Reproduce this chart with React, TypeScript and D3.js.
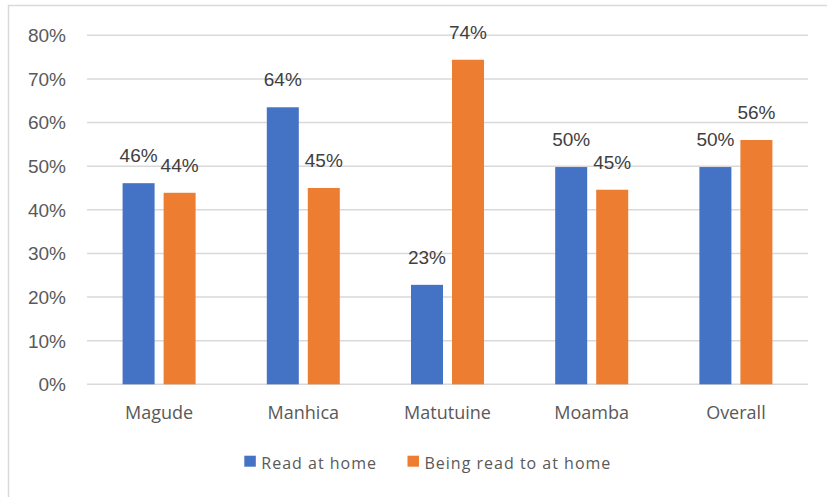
import React from "react";
import * as d3 from "d3";

const categories = ["Magude", "Manhica", "Matutuine", "Moamba", "Overall"];
const seriesNames = ["Read at home", "Being read to at home"];
const readAtHome = [0.461, 0.635, 0.228, 0.498, 0.498];
const beingReadTo = [0.439, 0.45, 0.744, 0.446, 0.56];
const yTicks = [0, 0.1, 0.2, 0.3, 0.4, 0.5, 0.6, 0.7, 0.8];
const colors = ["#4472C4", "#ED7D31"];

const W = 827;
const H = 497;

export default function App() {
  const x = d3.scaleBand<string>().domain(categories).range([87, 808]).padding(0);
  const bw = x.bandwidth();
  const inner = d3
    .scaleBand<string>()
    .domain(seriesNames)
    .range([0, bw])
    .paddingInner(9 / 41)
    .paddingOuter(0.868);
  const y = d3.scaleLinear().domain([0, 0.8]).range([384.3, 35.3]);
  const fmt = d3.format(".0%");
  const series = [readAtHome, beingReadTo];

  return (
    <div style={{ position: "fixed", left: 0, top: 0 }}>
      <svg width={W} height={H} style={{ display: "block", background: "#fff" }}>
        <rect x={8.5} y={5.5} width={900} height={600} fill="none" stroke="#d9d9d9" strokeWidth={1.5} />
        {yTicks.map((t) => (
          <g key={t}>
            <line x1={87} x2={808} y1={y(t)} y2={y(t)} stroke="#d9d9d9" strokeWidth={1.5} />
            <text
              x={66}
              y={y(t)}
              dy="0.36em"
              textAnchor="end"
              fontFamily="'Liberation Sans', Arial, sans-serif"
              fontSize={19}
              fill="#595959"
            >
              {fmt(t)}
            </text>
          </g>
        ))}
        {categories.map((c, i) => (
          <g key={c}>
            {series.map((vals, s) => {
              const bx = (x(c) as number) + (inner(seriesNames[s]) as number);
              const v = vals[i];
              return (
                <g key={s}>
                  <rect
                    x={bx}
                    y={y(v)}
                    width={inner.bandwidth()}
                    height={y(0) - y(v)}
                    fill={colors[s]}
                  />
                  <text
                    x={bx + inner.bandwidth() / 2}
                    y={y(v) - 21}
                    textAnchor="middle"
                    fontFamily="'Liberation Sans', Arial, sans-serif"
                    fontSize={19}
                    fill="#404040"
                  >
                    {fmt(v)}
                  </text>
                </g>
              );
            })}
            <text
              x={(x(c) as number) + bw / 2}
              y={419.3}
              textAnchor="middle"
              fontFamily="'Open Sans', sans-serif"
              fontSize={18}
              fill="#595959"
            >
              {c}
            </text>
          </g>
        ))}
        {seriesNames.map((name, s) => {
          const lx = s === 0 ? 244.3 : 407.5;
          return (
            <g key={name}>
              <rect x={lx} y={455.7} width={11.5} height={11} fill={colors[s]} />
              <text
                x={lx + 17}
                y={469}
                fontFamily="'Open Sans', sans-serif"
                fontSize={16}
                letterSpacing={1}
                fill="#595959"
              >
                {name}
              </text>
            </g>
          );
        })}
      </svg>
    </div>
  );
}
